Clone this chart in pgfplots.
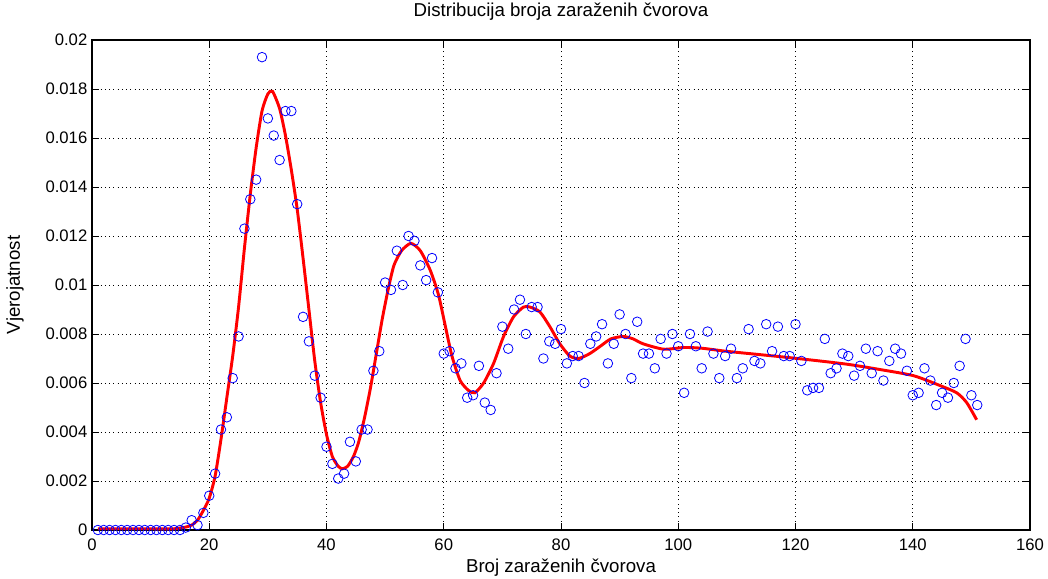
\documentclass[border=0pt]{standalone}
\usepackage{pgfplots}
\pgfplotsset{compat=1.18}
\usepackage{fontspec}
\setmainfont{Liberation Sans}

% observed frequencies of the number of infected nodes
\pgfplotstableread{
x y
1 0
2 0
3 0
4 0
5 0
6 0
7 0
8 0
9 0
10 0
11 0
12 0
13 0
14 0
15 0
16 0.0001
17 0.0004
18 0.0002
19 0.0007
20 0.0014
21 0.0023
22 0.0041
23 0.0046
24 0.0062
25 0.0079
26 0.0123
27 0.0135
28 0.0143
29 0.0193
30 0.0168
31 0.0161
32 0.0151
33 0.0171
34 0.0171
35 0.0133
36 0.0087
37 0.0077
38 0.0063
39 0.0054
40 0.0034
41 0.0027
42 0.0021
43 0.0023
44 0.0036
45 0.0028
46 0.0041
47 0.0041
48 0.0065
49 0.0073
50 0.0101
51 0.0098
52 0.0114
53 0.0100
54 0.0120
55 0.0118
56 0.0108
57 0.0102
58 0.0111
59 0.0097
60 0.0072
61 0.0073
62 0.0066
63 0.0068
64 0.0054
65 0.0055
66 0.0067
67 0.0052
68 0.0049
69 0.0064
70 0.0083
71 0.0074
72 0.0090
73 0.0094
74 0.0080
75 0.0091
76 0.0091
77 0.0070
78 0.0077
79 0.0076
80 0.0082
81 0.0068
82 0.0071
83 0.0071
84 0.0060
85 0.0076
86 0.0079
87 0.0084
88 0.0068
89 0.0076
90 0.0088
91 0.0080
92 0.0062
93 0.0085
94 0.0072
95 0.0072
96 0.0066
97 0.0078
98 0.0072
99 0.0080
100 0.0075
101 0.0056
102 0.0080
103 0.0075
104 0.0066
105 0.0081
106 0.0072
107 0.0062
108 0.0071
109 0.0074
110 0.0062
111 0.0066
112 0.0082
113 0.0069
114 0.0068
115 0.0084
116 0.0073
117 0.0083
118 0.0071
119 0.0071
120 0.0084
121 0.0069
122 0.0057
123 0.0058
124 0.0058
125 0.0078
126 0.0064
127 0.0066
128 0.0072
129 0.0071
130 0.0063
131 0.0067
132 0.0074
133 0.0064
134 0.0073
135 0.0061
136 0.0069
137 0.0074
138 0.0072
139 0.0065
140 0.0055
141 0.0056
142 0.0066
143 0.0061
144 0.0051
145 0.0056
146 0.0054
147 0.0060
148 0.0067
149 0.0078
150 0.0055
151 0.0051
}\observed

% smoothed distribution
\pgfplotstableread{
x y
1 0.00005
5 0.00005
10 0.00005
14 0.00005
15 0.00008
16 0.00012
17 0.0002
18 0.0004
19 0.0008
20 0.0013
21 0.0022
22 0.0037
23 0.0054
24 0.0071
25 0.0091
26 0.0115
27 0.0137
28 0.0156
29 0.0171
30 0.0178
30.8 0.0179
32 0.0172
33 0.0161
34 0.0147
35 0.0131
36 0.0111
37 0.0090
38 0.0069
39 0.0052
40 0.0039
41 0.0030
42 0.0026
42.7 0.0025
43.6 0.0026
44.6 0.0030
45.5 0.0036
46.5 0.0046
47.5 0.0058
48.5 0.0072
49.5 0.0086
50.5 0.0098
51.5 0.0108
52.8 0.0114
54.4 0.0117
56 0.0114
57.7 0.0106
59.1 0.0096
60.2 0.0084
61.4 0.0071
62.8 0.0061
64.2 0.0057
65.3 0.0056
66.8 0.0060
68.5 0.0068
70.2 0.0079
71.9 0.0087
73.6 0.0091
74.7 0.0091
76.4 0.0089
78.1 0.0083
79.8 0.0076
81.5 0.0071
83 0.0070
84.9 0.0072
86.7 0.0075
88.5 0.0078
90.6 0.0079
92.3 0.0078
94 0.0076
97.5 0.00738
101 0.00745
104 0.00742
108 0.0073
113 0.00718
118 0.00706
123 0.00693
129 0.00676
134.4 0.00655
140.1 0.0063
144.6 0.0059
147.5 0.0056
149.2 0.0052
150.9 0.0045
}\fitted

\begin{document}
\begin{tikzpicture}
\useasboundingbox (-69pt,-36pt) rectangle (717pt,397.5pt);
\begin{axis}[
  scale only axis,
  width=703.5pt, height=367.5pt,
  xmin=0, xmax=160, ymin=0, ymax=0.02,
  xtick={0,20,40,60,80,100,120,140,160},
  ytick={0,0.002,0.004,0.006,0.008,0.010,0.012,0.014,0.016,0.018,0.020},
  yticklabels={0,0.002,0.004,0.006,0.008,0.01,0.012,0.014,0.016,0.018,0.02},
  scaled y ticks=false,
  tick align=inside,
  xtick pos=both, ytick pos=both,
  major tick length=5pt,
  tick style={black, line width=0.6pt},
  axis line style={black, line width=0.8pt},
  grid=major,
  major grid style={black, line width=0.6pt, dash pattern=on 0.6pt off 2.6pt},
  tick label style={font=\fontsize{12.5}{14}\selectfont},
  /pgf/number format/assume math mode=true,
  xticklabel style={yshift=-3pt},
  label style={font=\fontsize{14}{16}\selectfont},
  title style={font=\fontsize{14}{16}\selectfont, at={(axis description cs:0.5,1.0408)}, anchor=center},
  xlabel style={at={(axis description cs:0.5,-0.0776)}, anchor=center},
  ylabel style={at={(axis description cs:-0.0821,0.5)}, anchor=center},
  title={Distribucija broja zaraženih čvorova},
  xlabel={Broj zaraženih čvorova},
  ylabel={Vjerojatnost},
  clip=false,
]
\addplot[only marks, mark=o, mark size=3.6pt, color=blue, mark options={line width=0.6pt}] table[x=x, y=y] {\observed};
\addplot[red, line width=2.2pt, smooth, tension=0.4] table[x=x, y=y] {\fitted};
\end{axis}
\end{tikzpicture}
\end{document}
